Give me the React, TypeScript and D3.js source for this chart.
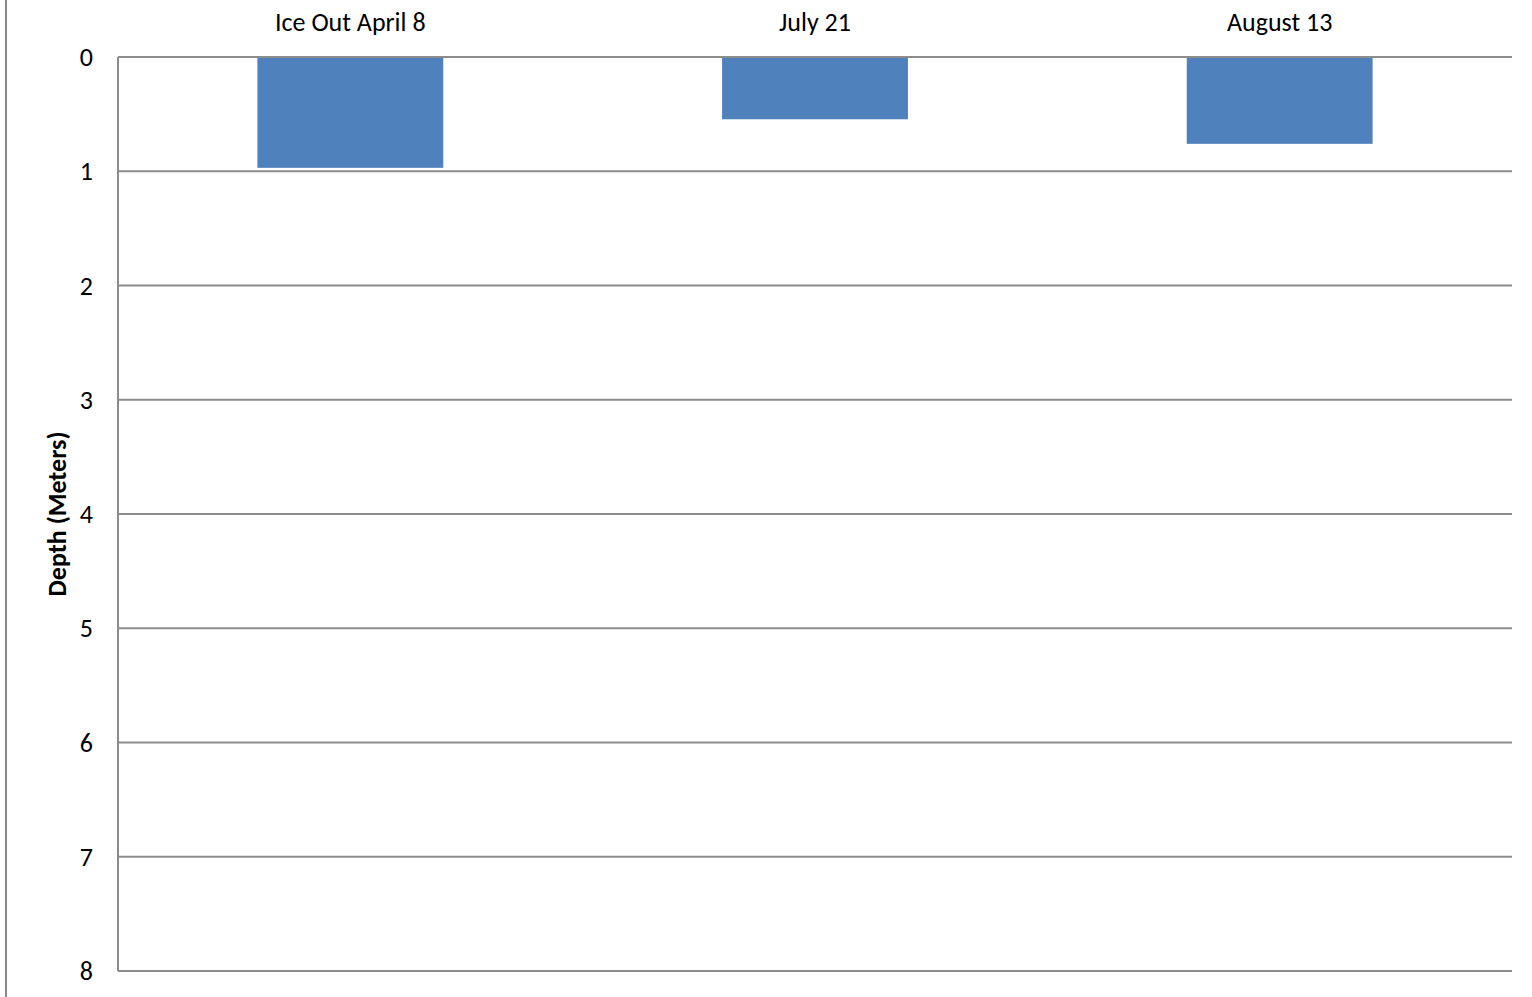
import React from "react";
import * as d3 from "d3";

const categories = ["Ice Out April 8", "July 21", "August 13"];
const depths = [0.97, 0.545, 0.76];
const yTicks = [0, 1, 2, 3, 4, 5, 6, 7, 8];

export default function App() {
  const W = 1532, H = 997;
  const left = 118, right = 1512, top = 57, bottom = 971;
  const x = d3.scaleBand<string>().domain(categories).range([left, right]).paddingInner(0.6).paddingOuter(0.3);
  const y = d3.scaleLinear().domain([0, 8]).range([top, bottom]);
  const font = "Carlito, Lato, 'Open Sans', sans-serif";
  return (
    <svg width={W} height={H} style={{ position: "absolute", left: 0, top: 0, background: "#fff" }}>
      <line x1={6} x2={6} y1={0} y2={H} stroke="#888" strokeWidth={2} />
      {yTicks.map((t) => (
        <g key={t}>
          <line x1={left} x2={right} y1={y(t)} y2={y(t)} stroke="#8c8c8c" strokeWidth={2} />
          <text x={93} y={y(t)} dy="0.35em" textAnchor="end" fontFamily={font} fontSize={26} fill="#000">{t}</text>
        </g>
      ))}
      <line x1={left} x2={left} y1={top} y2={bottom} stroke="#8c8c8c" strokeWidth={2} />
      {categories.map((c, i) => (
        <g key={c}>
          <rect x={x(c)} y={y(0) + 1} width={x.bandwidth()} height={y(depths[i]) - y(0) - 1} fill="#4f81bd" />
          <text x={(x(c) as number) + x.bandwidth() / 2} y={22} dy="0.35em" textAnchor="middle" fontFamily={font} fontSize={26} fill="#000">{c}</text>
        </g>
      ))}
      <text transform={`translate(57, ${(top + bottom) / 2}) rotate(-90)`} textAnchor="middle" dy="0.35em" fontFamily={font} fontSize={26} fontWeight="bold" fill="#000">Depth (Meters)</text>
    </svg>
  );
}
